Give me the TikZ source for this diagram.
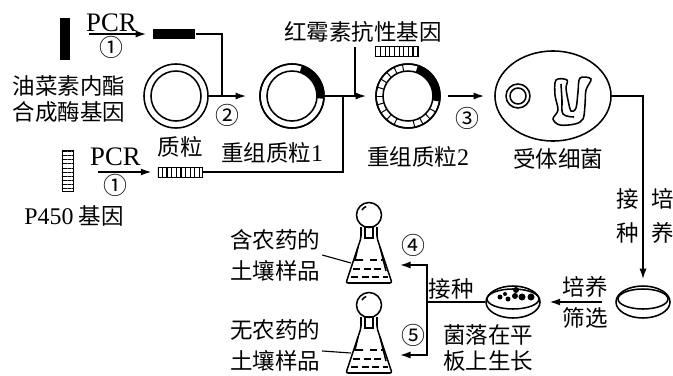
\documentclass[tikz,border=0pt]{standalone}
\usepackage{fontspec}
\setmainfont{Noto Sans CJK SC}
\newfontfamily\lat{Liberation Serif}
\usetikzlibrary{arrows.meta,shapes.geometric,patterns.meta}

\tikzset{
	lbl/.style={font=\fontsize{16}{19}\selectfont, inner sep=1pt, align=center},
	pcr/.style={font=\lat\fontsize{19}{19}\selectfont, inner sep=1pt},
	num/.style={font=\fontsize{17}{17}\selectfont, inner sep=0pt},
	arr/.style={-{Latex[length=7.5pt,width=5pt]}},
	plasmid/.style={circle, draw, minimum size=1.6cm, inner sep=0pt},
	darkgene/.style={fill=black, inner sep=0pt},
	stripev/.style={draw, line width=0.6pt, inner sep=0pt, pattern={Lines[angle=90,distance=3.3pt,line width=0.8pt]}},
	stripeh/.style={draw, line width=0.6pt, inner sep=0pt, pattern={Lines[angle=0,distance=2.9pt,line width=0.7pt]}},
	dish/.style={ellipse, draw, minimum width=1.35cm, minimum height=0.8cm, inner sep=0pt},
	flask/.pic={
		\draw[rounded corners=1.5pt] (-8,56) -- (-8,45) -- (-23,0) -- (23,0) -- (8,45) -- (8,56);
		\draw (0,68) circle (12.5);
		\draw (-7,73) arc[start angle=150, end angle=110, radius=8];
		\draw (-4,56) rectangle (4,45);
		\draw (-11,36) -- (-14,23) -- (-6,23);
		\draw (11,36) -- (17,12);
		\draw[dash pattern=on 5pt off 2.5pt] (1,23) -- (15,23);
		\draw[dash pattern=on 5pt off 2.5pt] (-16,14) -- (17,14);
		\draw[dash pattern=on 5pt off 2.5pt] (-18,6) -- (19,6);
		\coordinate (-wall) at (-18,20);
	}
}

\begin{document}
\begin{tikzpicture}[x=0.025cm, y=0.025cm, line width=1.1pt]
	\useasboundingbox (0,0) rectangle (673,-376);

	%genes
	\node[darkgene, minimum width=0.25cm, minimum height=1.05cm] (oilgene) at (65,-39) {};
	\node[darkgene, minimum width=1.05cm, minimum height=0.25cm] (oilpcr) at (174,-34) {};
	\node[lbl] (oillabel) at (69,-99) {油菜素内酯\\合成酶基因};
	%
	\node[stripeh, minimum width=0.275cm, minimum height=1.025cm] (p450gene) at (67.5,-170.5) {};
	\node[stripev, minimum width=1.1cm, minimum height=0.25cm] (p450pcr) at (180,-172) {};
	\node[lbl] (p450label) at (74,-216) {{\lat\fontsize{17}{19}\selectfont P450} 基因};
	%
	\node[lbl] (erylabel) at (363,-32) {红霉素抗性基因};
	\node[stripev, minimum width=1.075cm, minimum height=0.25cm] (erygene) at (396.5,-51) {};

	%plasmids
	\node[plasmid] (plasmid) at (176,-96) {};
	\draw (plasmid.center) circle (25);
	\node[lbl] (plasmidlabel) at (180,-147) {质粒};
	%
	\node[plasmid] (rec1) at (292,-96) {};
	\fill[shift={(rec1.center)}] (72:32) arc[start angle=72, end angle=-5, radius=32] -- (-5:25) arc[start angle=-5, end angle=72, radius=25] -- cycle;
	\draw (rec1.center) circle (25) circle (32);
	\node[lbl] (rec1label) at (272,-153) {重组质粒{\lat\fontsize{17}{19}\selectfont 1}};
	%
	\node[plasmid] (rec2) at (408,-96) {};
	\fill[shift={(rec2.center)}] (72:32) arc[start angle=72, end angle=-10, radius=32] -- (-10:25) arc[start angle=-10, end angle=72, radius=25] -- cycle;
	\foreach \a in {100,116,...,244} \draw[line width=0.7pt, shift={(rec2.center)}] (\a:25) -- (\a:32);
	\foreach \a in {-78,-62,...,-22} \draw[line width=0.7pt, shift={(rec2.center)}] (\a:25) -- (\a:32);
	\draw (rec2.center) circle (25) circle (32);
	\node[lbl] (rec2label) at (418,-157) {重组质粒{\lat\fontsize{17}{19}\selectfont 2}};

	%host cell
	\node[ellipse, draw, minimum width=2.9cm, minimum height=2.25cm, inner sep=0pt] (cell) at (553,-96) {};
	\node[circle, draw, minimum size=0.6cm, inner sep=0pt] (cellplasmid) at (518,-96) {};
	\draw (cellplasmid.center) circle (8);
	\draw plot[smooth cycle, tension=0.55] coordinates {(556,-80) (555,-95) (558,-110) (553,-119) (560,-125) (575,-124) (583,-119) (585,-105) (586,-90) (591,-79) (580,-78) (578,-92) (576,-108) (571,-111) (568,-100) (566,-88) (567,-80)};
	\draw plot[smooth, tension=0.6] coordinates {(561,-84) (562,-100) (563,-114) (574,-117)};
	\node[lbl] (celllabel) at (558,-159) {受体细菌};

	%dishes
	\node[dish] (dish1) at (643,-302) {};
	\draw (dish1.center) ++(0,3) ellipse [x radius=25, y radius=10];
	\node[dish] (dish2) at (513,-302) {};
	\draw (dish2.center) ++(0,3) ellipse [x radius=26, y radius=10];
	\foreach \p/\r in {(-13,5)/2.5, (-5,3)/2.5, (-8,8)/2, (3,12)/3, (2,6)/3, (9,5)/3.5, (18,5)/3.5}
		\fill[shift={(dish2.center)}] \p circle (\r);
	\node[lbl] (colonylabel) at (488,-348) {菌落在平\\板上生长};

	%flasks
	\pic (flaskA) at (369,-283) {flask};
	\pic (flaskB) at (369,-373) {flask};
	\node[lbl] (soilA) at (275,-255) {含农药的\\[3pt]土壤样品};
	\node[lbl] (soilB) at (275,-345) {无农药的\\[3pt]土壤样品};
	\draw[line width=0.8pt] (soilA.east) -- (flaskA-wall);
	\draw[line width=0.8pt] ([yshift=-0.15cm]soilB.east) -- (flaskB-wall);

	%connectors
	\draw[arr, shorten <=0.45cm, shorten >=0.15cm] (oilgene.east |- oilpcr.west) -- node[above=0pt, pcr] (pcrA) {PCR} node[below=1pt, num] (stepA) {①} (oilpcr.west);
	\draw[arr, shorten <=0.6cm, shorten >=0.15cm] (p450gene.east |- p450pcr.west) -- node[above=3pt, pcr] (pcrB) {PCR} node[below=1pt, num] (stepB) {①} (p450pcr.west);
	%
	\coordinate (join1) at (222,-96);
	\coordinate (join2) at (343,-96);
	\coordinate (erytop) at (355,-47);
	\draw (oilpcr.east) -| (join1);
	\draw[arr, shorten >=0.325cm] (plasmid.east) -- (rec1.west);
	\node[num] (step2) at (227,-115) {②};
	\draw (p450pcr.east) -| (join2);
	\draw (erytop) -- (erytop |- rec1);
	\draw[arr, shorten >=0.225cm] (rec1.east) -- (rec2.west);
	\draw[arr, shorten <=0.175cm, shorten >=0.25cm] (rec2.east) -- (cell.west);
	\node[num] (step3) at (467,-118) {③};
	%
	\draw[arr, shorten >=0.15cm] (cell.east) -| (dish1.north);
	\node[lbl] (inoc1) at (628,-216) {接\\[5pt]种};
	\node[lbl] (culture1) at (663,-216) {培\\[5pt]养};
	\draw[arr, shorten <=0.33cm, shorten >=0.22cm] (dish1.west) -- (dish2.east);
	\node[lbl] (culture2) at (585,-287) {培养};
	\node[lbl] (screen) at (585,-318) {筛选};
	%
	\coordinate (branch) at (427,-302);
	\coordinate (inA) at (400,-265);
	\coordinate (inB) at (400,-355);
	\draw (dish2.west) -- (branch);
	\draw[arr] (branch) |- (inA);
	\draw[arr] (branch) |- (inB);
	\node[lbl] (inoc2) at (451,-289) {接种};
	\node[num] (step4) at (413,-245) {④};
	\node[num] (step5) at (413,-335) {⑤};
\end{tikzpicture}
\end{document}
